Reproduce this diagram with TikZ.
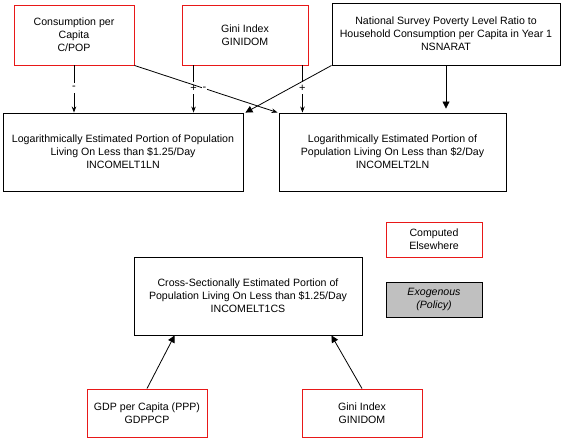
\documentclass[tikz,border=0pt]{standalone}
\usepackage{fontspec}
\setmainfont{Liberation Sans}
\usetikzlibrary{arrows.meta,calc}
\definecolor{boxred}{RGB}{232,24,24}
\definecolor{exogray}{RGB}{192,192,192}
\tikzset{
  base/.style={draw, line width=0.9pt, align=center, inner sep=0pt,
    font=\fontsize{10.6}{12.8}\selectfont},
  redbox/.style={base, draw=boxred},
  blackbox/.style={base, draw=black},
  smallarr/.style={line width=0.8pt, -{Stealth[length=6pt,width=4.5pt]}},
  bigarr/.style={line width=0.8pt, -{Triangle[length=7pt,width=7pt]}},
  sign/.style={fill=white, inner xsep=1pt, inner ysep=3pt, font=\fontsize{11}{12}\selectfont}
}
\begin{document}
\begin{tikzpicture}[x=1pt,y=-1pt]
\useasboundingbox (0,0) rectangle (564,441);
% top row
\node[redbox, minimum width=120pt, minimum height=60pt] (cons) at (74,35) {Consumption per\\Capita\\C/POP};
\node[redbox, minimum width=126pt, minimum height=60pt] (gini1) at (245,35) {Gini Index\\GINIDOM};
\node[blackbox, minimum width=228pt, minimum height=62pt] (nsn) at (446,34) {National Survey Poverty Level Ratio to\\Household Consumption per Capita in Year 1\\NSNARAT};
% second row
\node[blackbox, minimum width=240pt, minimum height=78pt] (inc1ln) at (123,152) {Logarithmically Estimated Portion of Population\\Living On Less than \$1.25/Day\\INCOMELT1LN};
\node[blackbox, minimum width=227pt, minimum height=78pt] (inc2ln) at (392.5,152) {Logarithmically Estimated Portion of\\Population Living On Less than \$2/Day\\INCOMELT2LN};
% legend
\node[redbox, minimum width=96pt, minimum height=35pt] (comp) at (434,239.5) {Computed\\Elsewhere};
\node[blackbox, fill=exogray, minimum width=96pt, minimum height=35pt] (exo) at (434,299.5) {\itshape Exogenous\\\itshape (Policy)};
% lower part
\node[blackbox, minimum width=228pt, minimum height=78pt] (inc1cs) at (248,296) {Cross-Sectionally Estimated Portion of\\Population Living On Less than \$1.25/Day\\INCOMELT1CS};
\node[redbox, minimum width=120pt, minimum height=48pt] (gdp) at (147,413) {GDP per Capita (PPP)\\GDPPCP};
\node[redbox, minimum width=120pt, minimum height=48pt] (gini2) at (362,413) {Gini Index\\GINIDOM};
% connectors top
\draw[smallarr] (cons.south) -- node[sign, pos=0.48] {-} (cons.south |- inc1ln.north);
\draw[smallarr] ([xshift=12pt]gini1.south west) -- node[sign, pos=0.48] {+} ([xshift=12pt]gini1.south west |- inc1ln.north);
\draw[smallarr] ([xshift=-6pt]gini1.south east) -- node[sign, pos=0.48] {+} ([xshift=-6pt]gini1.south east |- inc2ln.north);
\draw[smallarr] (cons.south east) -- node[sign, pos=0.49, inner xsep=1pt, inner ysep=0.5pt] {-} ([xshift=-1pt]inc2ln.north west);
\draw[bigarr] (nsn.south west) -- ([xshift=2pt]inc1ln.north east);
\draw[bigarr, shorten >=4pt] (nsn.south) -- (nsn.south |- inc2ln.north);
% connectors bottom
\draw[bigarr] (gdp.north) -- ([xshift=41pt]inc1cs.south west);
\draw[bigarr] (gini2.north) -- ([xshift=-31pt]inc1cs.south east);
\end{tikzpicture}
\end{document}
